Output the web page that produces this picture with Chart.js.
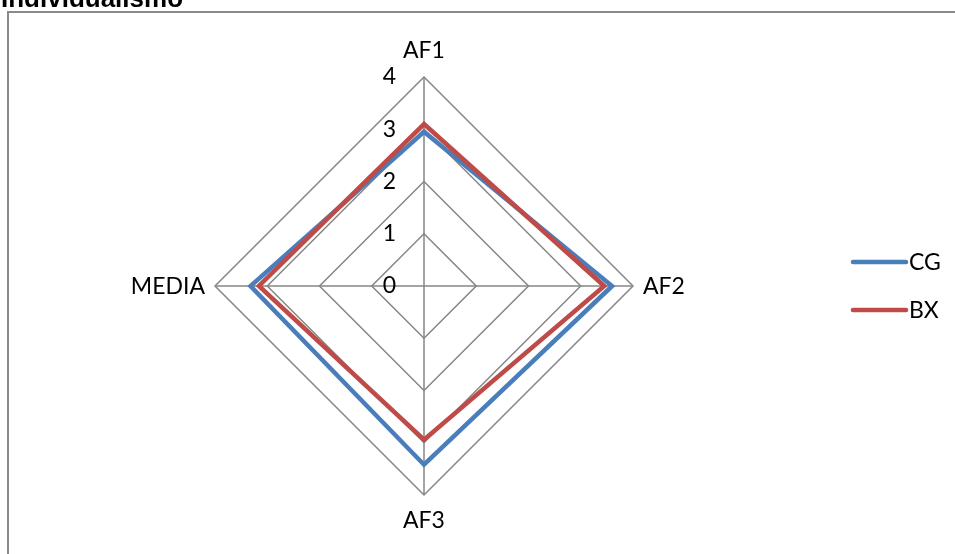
<!DOCTYPE html>
<html>
<head>
<meta charset="utf-8">
<script src="https://cdn.jsdelivr.net/npm/chart.js@4/dist/chart.umd.min.js"></script>
<style>
  html, body { margin: 0; padding: 0; background: #fff; overflow: hidden; }
  #wrap { position: relative; width: 955px; height: 554px; }
  canvas { position: absolute; left: 0; top: 0; }
</style>
</head>
<body>
<div id="wrap"><canvas id="chart" width="955" height="554"></canvas></div>
<script>
// Axes of the radar and the two series plotted on them
const categories = ['AF1', 'AF2', 'AF3', 'MEDIA'];
const seriesNames = ['CG', 'BX'];
const cgValues = [2.95, 3.6, 3.42, 3.32];
const bxValues = [3.1, 3.45, 2.94, 3.16];
const tickValues = [0, 1, 2, 3, 4];
const chartTitle = 'Individualismo';

const COLORS = { CG: '#4A7EBB', BX: '#BE4B48', grid: '#868686', frame: '#8a8a8a', text: '#000' };
const LABEL_FONT = '23px Lato, "Open Sans", sans-serif';

// Draws title, frame, scale numbers, axis names and the legend
const decorations = {
  id: 'decorations',
  beforeDraw(chart) {
    const ctx = chart.ctx;
    ctx.save();
    ctx.fillStyle = '#fff';
    ctx.fillRect(0, 0, chart.width, chart.height);
    ctx.strokeStyle = COLORS.frame;
    ctx.lineWidth = 2;
    ctx.strokeRect(8, 12, chart.width + 20, chart.height + 20);
    ctx.fillStyle = COLORS.text;
    ctx.font = 'bold 26px "Liberation Sans", Arial, sans-serif';
    ctx.textBaseline = 'alphabetic';
    ctx.textAlign = 'left';
    ctx.fillText(chartTitle, 1, 7);
    ctx.restore();
  },
  afterDraw(chart) {
    const ctx = chart.ctx;
    const r = chart.scales.r;
    ctx.save();
    ctx.fillStyle = COLORS.text;
    ctx.font = LABEL_FONT;

    // scale numbers, left of the vertical axis
    ctx.textAlign = 'right';
    ctx.textBaseline = 'middle';
    tickValues.forEach(v => {
      const d = r.getDistanceFromCenterForValue(v);
      ctx.fillText(String(v), r.xCenter - 28, r.yCenter - d);
    });

    // axis names
    categories.forEach((name, i) => {
      const angle = r.getIndexAngle(i) - Math.PI / 2;
      const c = Math.cos(angle), s = Math.sin(angle);
      if (Math.abs(c) < 0.01) {
        const p = r.getPointPosition(i, r.drawingArea + 26);
        ctx.textAlign = 'center';
        ctx.textBaseline = 'middle';
        ctx.fillText(name, p.x, p.y);
      } else {
        const p = r.getPointPosition(i, r.drawingArea + 10);
        ctx.textAlign = c > 0 ? 'left' : 'right';
        ctx.textBaseline = 'middle';
        ctx.fillText(name, p.x, p.y + 1);
      }
    });

    // legend
    chart.data.datasets.forEach((ds, i) => {
      const y = 262 + i * 48;
      ctx.strokeStyle = ds.borderColor;
      ctx.lineWidth = 4.5;
      ctx.lineCap = 'round';
      ctx.beginPath();
      ctx.moveTo(853, y);
      ctx.lineTo(906, y);
      ctx.stroke();
      ctx.fillStyle = COLORS.text;
      ctx.textAlign = 'left';
      ctx.textBaseline = 'middle';
      ctx.fillText(ds.label, 909, y + 1);
    });
    ctx.restore();
  }
};

new Chart(document.getElementById('chart'), {
  type: 'radar',
  data: {
    labels: categories,
    datasets: [
      { label: seriesNames[0], data: cgValues, borderColor: COLORS.CG, order: 1 },
      { label: seriesNames[1], data: bxValues, borderColor: COLORS.BX, order: 0 }
    ]
  },
  options: {
    responsive: false,
    animation: false,
    devicePixelRatio: 1,
    layout: { padding: { top: 77, bottom: 59, left: 0, right: 107 } },
    elements: {
      line: { borderWidth: 4.5, fill: false, tension: 0, borderJoinStyle: 'miter', backgroundColor: 'transparent' },
      point: { radius: 0, hoverRadius: 0 }
    },
    plugins: { legend: { display: false }, title: { display: false }, tooltip: { enabled: false } },
    scales: {
      r: {
        min: 0,
        max: 4,
        ticks: { stepSize: 1, display: false },
        grid: { color: COLORS.grid, lineWidth: 1.5 },
        angleLines: { color: COLORS.grid, lineWidth: 1.5 },
        pointLabels: { display: false }
      }
    }
  },
  plugins: [decorations]
});
</script>
</body>
</html>
